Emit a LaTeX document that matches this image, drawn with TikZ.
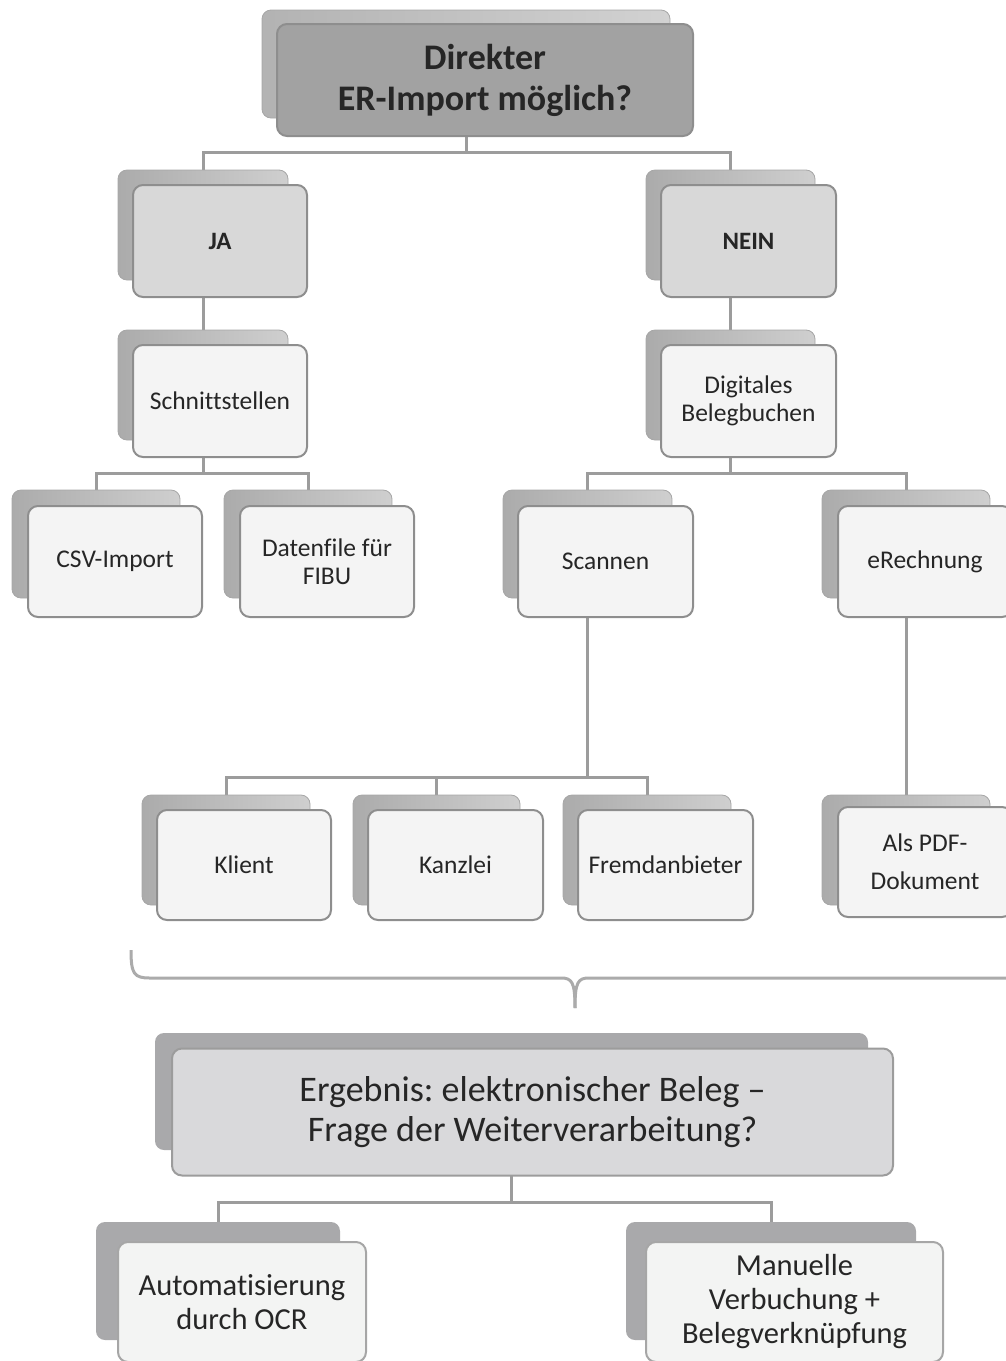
\documentclass[tikz,border=0pt]{standalone}
\usepackage{fontspec}
\setmainfont{Carlito}[Ligatures={NoCommon}]
\frenchspacing
\pgfdeclarelayer{background}
\pgfsetlayers{background,main}
\definecolor{conncol}{HTML}{9C9C9C}
\definecolor{txt}{HTML}{262626}
\definecolor{bordc}{HTML}{8E8E8E}
\definecolor{topfront}{HTML}{A2A2A2}
\definecolor{topback}{HTML}{D2D2D2}
\definecolor{midfront}{HTML}{D8D8D8}
\definecolor{lowfront}{HTML}{F4F4F4}
\definecolor{backL}{HTML}{ABABAB}
\definecolor{backR}{HTML}{CFCFCF}
\definecolor{darkback}{HTML}{A9A9AB}
\definecolor{ergfront}{HTML}{D9D9DB}
\definecolor{botfront}{HTML}{F3F4F3}
\tikzset{
  conn/.style={draw=conncol, line width=3pt},
  bracestyle/.style={draw=conncol!85, line width=3pt},
  bk/.style={rounded corners=9pt, inner sep=0pt, outer sep=0pt, draw=backR!80!black, line width=0.8pt,
     left color=backL, right color=backR},
  bkflat/.style={rounded corners=9pt, inner sep=0pt, outer sep=0pt, fill=darkback},
  fr/.style={rounded corners=10pt, line width=2pt, draw=bordc, inner sep=2pt, outer sep=0pt,
     align=center, text=txt},
  lvA/.style={fr, fill=topfront, font=\bfseries\fontsize{36}{41}\selectfont},
  lvB/.style={fr, fill=midfront, font=\bfseries\fontsize{25}{28}\selectfont},
  lvC/.style={fr, fill=lowfront, font=\fontsize{25.5}{28}\selectfont},
  lvD/.style={fr, fill=ergfront, draw=conncol, font=\fontsize{36}{40}\selectfont},
  lvE/.style={fr, fill=botfront, draw=conncol!90, font=\fontsize{30.5}{34}\selectfont},
}
\begin{document}
\begin{tikzpicture}[x=1pt,y=-1pt]
\useasboundingbox (0,0) rectangle (1006,1361);
\clip (0,0) rectangle (1006,1361);
% top
\node[bk, left color=topback!85!black, right color=topback, minimum width=408pt, minimum height=108pt] (topb) at (466,64) {};
\node[lvA, minimum width=416pt, minimum height=112pt] (top) at (485,80) {Direkter\\ER-Import möglich?};
% level 2
\node[bk, minimum width=170pt, minimum height=110pt] (jab) at (203,225) {};
\node[lvB, minimum width=174pt, minimum height=112pt] (ja) at (220,241) {JA};
\node[bk, minimum width=169pt, minimum height=110pt] (neinb) at (730.5,225) {};
\node[lvB, minimum width=175pt, minimum height=112pt] (nein) at (748.5,241) {NEIN};
% level 3
\node[bk, minimum width=170pt, minimum height=110pt] (schb) at (203,385) {};
\node[lvC, minimum width=174pt, minimum height=112pt] (sch) at (220,401) {Schnittstellen};
\node[bk, minimum width=169pt, minimum height=110pt] (digb) at (730.5,385) {};
\node[lvC, minimum width=175pt, minimum height=112pt] (dig) at (748.5,401) {Digitales\\Belegbuchen};
% level 4
\node[bk, minimum width=168pt, minimum height=108pt] (csvb) at (96,544) {};
\node[lvC, minimum width=174pt, minimum height=111pt] (csv) at (115,561.5) {CSV-Import};
\node[bk, minimum width=168pt, minimum height=108pt] (datb) at (308,544) {};
\node[lvC, minimum width=174pt, minimum height=111pt] (dat) at (327,561.5) {Datenfile für\\FIBU};
\node[bk, minimum width=169pt, minimum height=108pt] (scanb) at (587.5,544) {};
\node[lvC, minimum width=175pt, minimum height=111pt] (scan) at (605.5,561.5) {Scannen};
\node[bk, minimum width=168pt, minimum height=108pt] (erechb) at (906,544) {};
\node[lvC, minimum width=174pt, minimum height=111pt] (erech) at (925,561.5) {eRechnung};
% level 5
\node[bk, minimum width=168pt, minimum height=110pt] (klientb) at (226,850) {};
\node[lvC, minimum width=174pt, minimum height=110pt] (klient) at (244,865) {Klient};
\node[bk, minimum width=167pt, minimum height=110pt] (kanzb) at (436.5,850) {};
\node[lvC, minimum width=175pt, minimum height=110pt] (kanz) at (455.5,865) {Kanzlei};
\node[bk, minimum width=168pt, minimum height=110pt] (fremdb) at (647,850) {};
\node[lvC, minimum width=175pt, minimum height=110pt] (fremd) at (665.5,865) {Fremdanbieter};
\node[bk, minimum width=168pt, minimum height=110pt] (pdfb) at (906,850) {};
\node[lvC, minimum width=174pt, minimum height=110pt, font=\fontsize{25.5}{38}\selectfont] (pdf) at (925,862) {Als PDF-\\Dokument};
% result
\node[bkflat, minimum width=713pt, minimum height=117pt] (ergb) at (511.5,1091.5) {};
\node[lvD, minimum width=721pt, minimum height=127pt] (erg) at (532.5,1112) {Ergebnis: elektronischer Beleg --\\Frage der Weiterverarbeitung?};
\node[bkflat, minimum width=244pt, minimum height=118pt] (autob) at (218,1281) {};
\node[lvE, minimum width=248pt, minimum height=120pt] (auto) at (242,1302) {Automatisierung\\durch OCR};
\node[bkflat, minimum width=290pt, minimum height=118pt] (manb) at (771,1281) {};
\node[lvE, minimum width=297pt, minimum height=120pt] (man) at (794.5,1302) {Manuelle\\Verbuchung +\\Belegverknüpfung};
% connectors
\coordinate (bus1) at (0,152);
\coordinate (bus2) at (0,473);
\coordinate (bus3) at (0,777);
\coordinate (bus4) at (0,1202);
\begin{pgfonlayer}{background}
\draw[conn] (topb.center) -- (topb.center |- bus1) -| (jab.center);
\draw[conn] (topb.center |- bus1) -| (neinb.center);
\draw[conn] (jab.center) -- (schb.center);
\draw[conn] (neinb.center) -- (digb.center);
\draw[conn] (schb.center) -- (schb.center |- bus2) -| (csvb.center);
\draw[conn] (schb.center |- bus2) -| (datb.center);
\draw[conn] (digb.center) -- (digb.center |- bus2) -| (scanb.center);
\draw[conn] (digb.center |- bus2) -| (erechb.center);
\draw[conn] (scanb.center) -- (scanb.center |- bus3) -| (klientb.center);
\draw[conn] (scanb.center |- bus3) -| (kanzb.center);
\draw[conn] (scanb.center |- bus3) -| (fremdb.center);
\draw[conn] (erechb.center) -- (pdfb.center);
\draw[conn] (ergb.center) -- (ergb.center |- bus4) -| (autob.center);
\draw[conn] (ergb.center |- bus4) -| (manb.center);
\end{pgfonlayer}
% brace
\coordinate (brL) at (131,950);
\coordinate (brM) at (575,1008);
\coordinate (brR) at (1030,978);
\draw[bracestyle] (brL) .. controls (131,974) and (134,978) .. (150,978) -- (561,978)
   .. controls (572,978) and (575,982) .. (brM);
\draw[bracestyle] (brM) .. controls (575,982) and (578,978) .. (589,978) -- (brR);
\end{tikzpicture}
\end{document}
